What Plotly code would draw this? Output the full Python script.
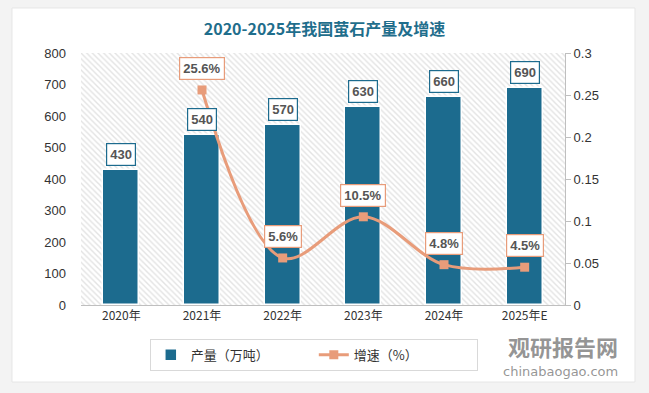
import plotly.graph_objects as go

categories = ["2020年", "2021年", "2022年", "2023年", "2024年", "2025年E"]
output_vals = [430, 540, 570, 630, 660, 690]
growth_vals = [None, 0.256, 0.056, 0.105, 0.048, 0.045]
growth_labels = ["", "25.6%", "5.6%", "10.5%", "4.8%", "4.5%"]
left_ticks = [0, 100, 200, 300, 400, 500, 600, 700, 800]
right_ticks = [0, 0.05, 0.1, 0.15, 0.2, 0.25, 0.3]
right_ticktext = ["0", "0.05", "0.1", "0.15", "0.2", "0.25", "0.3"]

BAR = "#1c6b8e"
LINE = "#e89c7a"
TXT = "#333333"

fig = go.Figure()

# hatched plot-area background
fig.add_trace(go.Bar(
    x=categories, y=[800] * len(categories), width=1,
    marker=dict(color="white", line=dict(width=0),
                pattern=dict(shape="\\", fgcolor="#c8c8c8", bgcolor="white", size=4, solidity=0.35)),
    showlegend=False, hoverinfo="skip"))

fig.add_trace(go.Bar(
    x=categories, y=output_vals, width=0.45, name="产量（万吨）",
    marker=dict(color=BAR, line=dict(color="white", width=1.5))))

fig.add_trace(go.Scatter(
    x=categories, y=growth_vals, yaxis="y2", name="增速（%）",
    mode="lines+markers",
    line=dict(color=LINE, width=3, shape="spline", smoothing=1.0),
    marker=dict(symbol="square", size=9, color=LINE)))

annotations = []
for c, v in zip(categories, output_vals):
    annotations.append(dict(
        x=c, y=v, xref="x", yref="y", text=f"<b>{v}</b>", showarrow=False,
        yanchor="bottom", yshift=4,
        font=dict(family="Liberation Sans, Arial", size=13, color="#555555"),
        bgcolor="white", bordercolor=BAR, borderwidth=1.2, borderpad=3))
for c, v, t in zip(categories, growth_vals, growth_labels):
    if v is None:
        continue
    annotations.append(dict(
        x=c, y=v, xref="x", yref="y2", text=f"<b>{t}</b>", showarrow=False,
        yanchor="bottom", yshift=10,
        font=dict(family="Liberation Sans, Arial", size=13, color="#555555"),
        bgcolor="white", bordercolor=LINE, borderwidth=1.2, borderpad=3))

# watermark
annotations.append(dict(
    xref="paper", yref="paper", x=1.114, y=-0.163, xanchor="right", yanchor="middle",
    text="<b>观研报告网</b>", showarrow=False,
    font=dict(family="Noto Sans CJK SC", size=22, color="rgba(130,130,130,0.85)")))
annotations.append(dict(
    xref="paper", yref="paper", x=1.114, y=-0.262, xanchor="right", yanchor="middle",
    text="chinabaogao.com", showarrow=False,
    font=dict(family="DejaVu Sans", size=13, color="rgba(130,130,130,0.85)")))

shapes = [dict(type="rect", xref="paper", yref="paper", x0=-0.1426, x1=1.1446, y0=-0.3056, y1=1.1786,
               fillcolor="white", line=dict(color="#e6e6e6", width=1), layer="below")]

fig.update_layout(
    width=649, height=393,
    margin=dict(l=81, r=84, t=53, b=88),
    paper_bgcolor="#f3f3f3", plot_bgcolor="white",
    barmode="overlay", bargap=0,
    title=dict(text="<b>2020-2025年我国萤石产量及增速</b>", x=0.5, xanchor="center",
               y=0.925, yanchor="middle",
               font=dict(family="Noto Sans CJK SC", size=16, color="#1f6e8c")),
    font=dict(family="Liberation Sans, Noto Sans CJK SC", size=13, color=TXT),
    xaxis=dict(type="category", showline=True, linecolor="#bfbfbf", linewidth=1,
               ticks="", showgrid=False, automargin=False,
               tickfont=dict(family="Noto Sans CJK SC", size=12, color=TXT)),
    yaxis=dict(range=[0, 800], tickvals=left_ticks, showgrid=False, zeroline=False,
               showline=False, ticks="", ticklabelstandoff=14, automargin=False),
    yaxis2=dict(range=[0, 0.3], overlaying="y", side="right", tickvals=right_ticks,
                ticktext=right_ticktext, showgrid=False, zeroline=False,
                showline=True, linecolor="#bfbfbf", linewidth=1, automargin=False,
                ticks="outside", ticklen=5, tickcolor="#bfbfbf"),
    legend=dict(orientation="h", x=0.481, xanchor="center", y=-0.198, yanchor="middle",
                bordercolor="#d9d9d9", borderwidth=1, bgcolor="white",
                entrywidth=118, font=dict(family="Noto Sans CJK SC", size=13, color=TXT)),
    annotations=annotations, shapes=shapes,
)

fig.write_html("out.html", config={"displayModeBar": False},
               post_script="document.body.style.margin='0';")
